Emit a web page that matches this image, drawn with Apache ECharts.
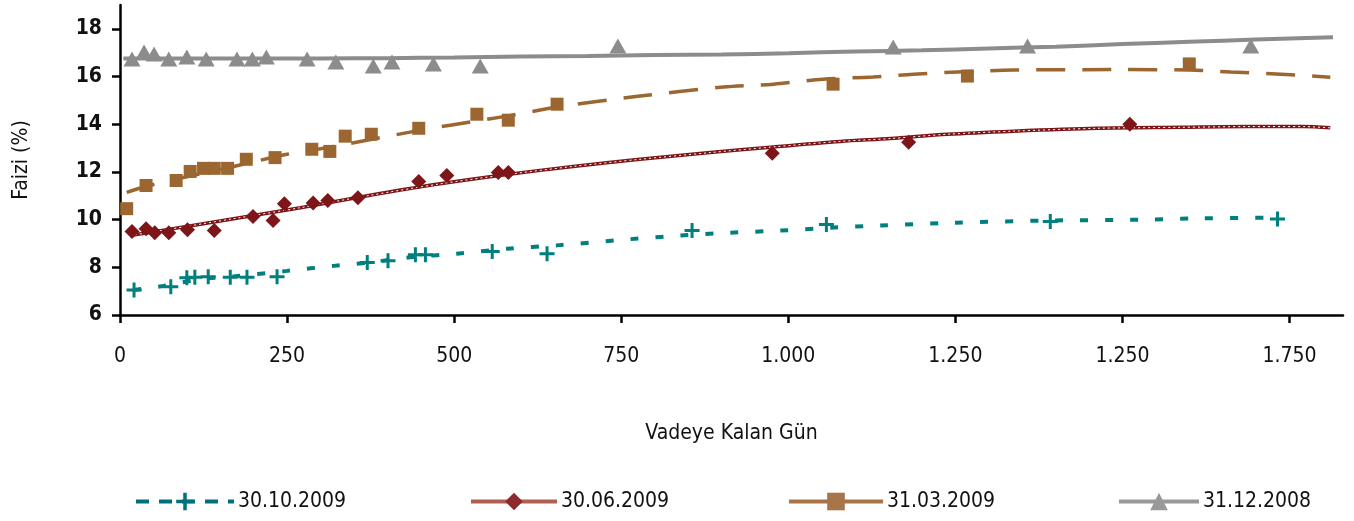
<!DOCTYPE html>
<html>
<head>
<meta charset="utf-8">
<script src="https://cdn.jsdelivr.net/npm/echarts@6/dist/echarts.min.js"></script>
<style>
html,body{margin:0;padding:0;background:#fff;}
#chart{width:1354px;height:521px;}
</style>
</head>
<body>
<div id="chart"></div>
<script>
// ---- data ----
var seriesNames = ['30.10.2009', '30.06.2009', '31.03.2009', '31.12.2008'];
var xTickValues = [0, 250, 500, 750, 1000, 1250, 1500, 1750];
var xTickLabels = ['0', '250', '500', '750', '1.000', '1.250', '1.250', '1.750'];
var yTickValues = [6, 8, 10, 12, 14, 16, 18];

// observed points
var tealX = [21, 76, 100, 112, 132, 165, 190, 235, 370, 401, 442, 457, 557, 639, 856, 1057, 1392, 1732];
var tealY = [7.05, 7.18, 7.56, 7.58, 7.6, 7.58, 7.58, 7.6, 8.2, 8.27, 8.53, 8.53, 8.66, 8.57, 9.54, 9.79, 9.92, 10.03];
var redX = [18, 39, 52, 73, 101, 141, 199, 229, 246, 289, 311, 356, 447, 489, 566, 581, 976, 1180, 1511];
var redY = [9.5, 9.62, 9.45, 9.45, 9.58, 9.54, 10.13, 9.96, 10.67, 10.7, 10.8, 10.92, 11.6, 11.85, 11.98, 11.98, 12.78, 13.24, 14.0];
var brownX = [10, 39, 84, 105, 125, 141, 161, 189, 232, 287, 314, 337, 376, 447, 534, 581, 654, 1067, 1268, 1600];
var brownY = [10.46, 11.43, 11.64, 12.02, 12.15, 12.15, 12.15, 12.53, 12.6, 12.95, 12.86, 13.5, 13.58, 13.83, 14.42, 14.17, 14.84, 15.68, 16.02, 16.53];
var grayX = [18, 36, 51, 73, 100, 129, 175, 198, 219, 280, 323, 379, 407, 469, 539, 745, 1157, 1358, 1692];
var grayY = [16.74, 17.03, 16.95, 16.74, 16.82, 16.74, 16.74, 16.74, 16.82, 16.74, 16.61, 16.44, 16.61, 16.53, 16.44, 17.28, 17.24, 17.28, 17.28];

// trend curves
var tealLineX = [20, 65, 120, 170, 250, 320, 370, 434, 504, 579, 654, 763, 838, 913, 988, 1063, 1138, 1247, 1388, 1537, 1612, 1732];
var tealLineY = [7.05, 7.22, 7.5, 7.62, 7.85, 8.06, 8.19, 8.42, 8.57, 8.78, 8.92, 9.18, 9.33, 9.45, 9.54, 9.66, 9.75, 9.87, 9.96, 10.0, 10.05, 10.08];
var redLineX = [15, 70, 170, 270, 370, 479, 579, 678, 778, 879, 978, 1078, 1153, 1238, 1337, 1462, 1587, 1687, 1771, 1811];
var redLineY = [9.33, 9.58, 10.04, 10.5, 11.0, 11.5, 11.89, 12.23, 12.53, 12.8, 13.05, 13.28, 13.4, 13.58, 13.71, 13.83, 13.87, 13.9, 13.9, 13.85];
var brownLineX = [10, 40, 100, 170, 250, 320, 434, 494, 579, 654, 778, 903, 978, 1052, 1127, 1187, 1253, 1337, 1500, 1600, 1662, 1737, 1811];
var brownLineY = [11.14, 11.4, 11.8, 12.23, 12.74, 13.07, 13.67, 13.96, 14.34, 14.72, 15.18, 15.56, 15.68, 15.89, 15.98, 16.1, 16.19, 16.27, 16.29, 16.27, 16.19, 16.1, 15.97];
var grayLineX = [5, 100, 200, 300, 400, 500, 600, 700, 800, 900, 1000, 1100, 1200, 1300, 1400, 1500, 1600, 1700, 1815];
var grayLineY = [16.76, 16.76, 16.76, 16.76, 16.77, 16.8, 16.84, 16.86, 16.9, 16.92, 16.98, 17.05, 17.1, 17.18, 17.25, 17.36, 17.46, 17.55, 17.65];

// ---- build ----
function pairs(xs, ys) { return xs.map(function (x, i) { return [x, ys[i]]; }); }
var FONT = '"DejaVu Sans Condensed", "Liberation Sans Narrow", "Liberation Sans", sans-serif';
var PLUS = 'path://M4,0H6V4H10V6H6V10H4V6H0V4H4Z';

var C = {
  teal: '#007f7f', red: '#7e1518', brown: '#9c6631', gray: '#8c8c8c'
};

var chart = echarts.init(document.getElementById('chart'), null, { renderer: 'canvas' });

function lineSeries(name, xs, ys, color, width, dash, symbol) {
  return {
    name: name, type: 'line', data: pairs(xs, ys), smooth: 0.3,
    symbol: symbol, showSymbol: false, z: 2,
    lineStyle: { color: color, width: width, type: dash },
    itemStyle: { color: color },
    emphasis: { disabled: true }, silent: true
  };
}
function scatterSeries(name, xs, ys, color, symbol, size) {
  return {
    name: name, type: 'scatter', data: pairs(xs, ys), symbol: symbol, symbolSize: size,
    itemStyle: { color: color, opacity: 1 }, z: 3, silent: true
  };
}

var series = [
  lineSeries(seriesNames[0], tealLineX, tealLineY, C.teal, 4, [8, 17], PLUS),
  lineSeries(seriesNames[1], redLineX, redLineY, C.red, 3.5, 'solid', 'diamond'),
  lineSeries(seriesNames[2], brownLineX, brownLineY, C.brown, 3.5, [29, 17], 'rect'),
  lineSeries(seriesNames[3], grayLineX, grayLineY, C.gray, 4, 'solid', 'triangle'),
  {
    name: 'redDots', type: 'line', data: pairs(redLineX, redLineY), smooth: 0.3,
    showSymbol: false, z: 2.5, silent: true,
    lineStyle: { color: '#ffffff', width: 1, type: [2, 3] }
  },
  scatterSeries(seriesNames[0], tealX, tealY, C.teal, PLUS, 15),
  scatterSeries(seriesNames[1], redX, redY, C.red, 'diamond', [15, 15]),
  scatterSeries(seriesNames[2], brownX, brownY, C.brown, 'rect', [13, 13]),
  scatterSeries(seriesNames[3], grayX, grayY, C.gray, 'triangle', [17, 15])
];

var legendDefs = [
  { name: seriesNames[0], left: 134, w: 98, line: { color: '#00717a', width: 4, type: [13, 10] }, item: { color: '#00717a' } },
  { name: seriesNames[1], left: 469, w: 86, line: { color: '#b06052', width: 4, type: 'solid' }, item: { color: '#8e2a2c' } },
  { name: seriesNames[2], left: 787, w: 94, line: { color: '#a8744a', width: 4, type: 'solid' }, item: { color: '#a8744a' } },
  { name: seriesNames[3], left: 1117, w: 80, line: { color: '#999999', width: 4, type: 'solid' }, item: { color: '#999999' } }
];
var legends = legendDefs.map(function (d) {
  return {
    left: d.left, top: 491, padding: 0, itemWidth: d.w, itemHeight: 22, selectedMode: false,
    data: [{ name: d.name, lineStyle: d.line, itemStyle: d.item }],
    textStyle: { fontFamily: FONT, fontSize: 21, color: '#111', padding: [0, 0, 0, -1] }
  };
});

chart.setOption({
  animation: false,
  backgroundColor: '#ffffff',
  grid: { left: 120, right: 11, top: 5, bottom: 206, containLabel: false },
  legend: legends,
  xAxis: {
    type: 'value', min: 0, max: 1830, interval: 250,
    name: 'Vadeye Kalan Gün', nameLocation: 'middle', nameGap: 108,
    nameTextStyle: { fontFamily: FONT, fontSize: 21, color: '#111' },
    axisLine: { show: true, onZero: false, lineStyle: { color: '#000', width: 2.5 } },
    axisTick: { show: true, inside: false, length: 8, lineStyle: { color: '#000', width: 2.5 }, customValues: xTickValues },
    axisLabel: {
      customValues: xTickValues, margin: 31, color: '#111', fontFamily: FONT, fontSize: 21,
      formatter: function (v) { var i = xTickValues.indexOf(v); return i >= 0 ? xTickLabels[i] : ''; }
    },
    splitLine: { show: false }
  },
  yAxis: {
    type: 'value', min: 6, max: 19, interval: 2,
    name: 'Faizi (%)', nameLocation: 'middle', nameGap: 88,
    nameTextStyle: { fontFamily: FONT, fontSize: 21, color: '#111' },
    axisLine: { show: true, lineStyle: { color: '#000', width: 2.5 } },
    axisTick: { show: true, inside: false, length: 8, lineStyle: { color: '#000', width: 2.5 }, customValues: yTickValues },
    axisLabel: { customValues: yTickValues, margin: 18, color: '#111', fontFamily: FONT, fontSize: 21, fontWeight: 'bold' },
    splitLine: { show: false }
  },
  series: series
});
</script>
</body>
</html>
